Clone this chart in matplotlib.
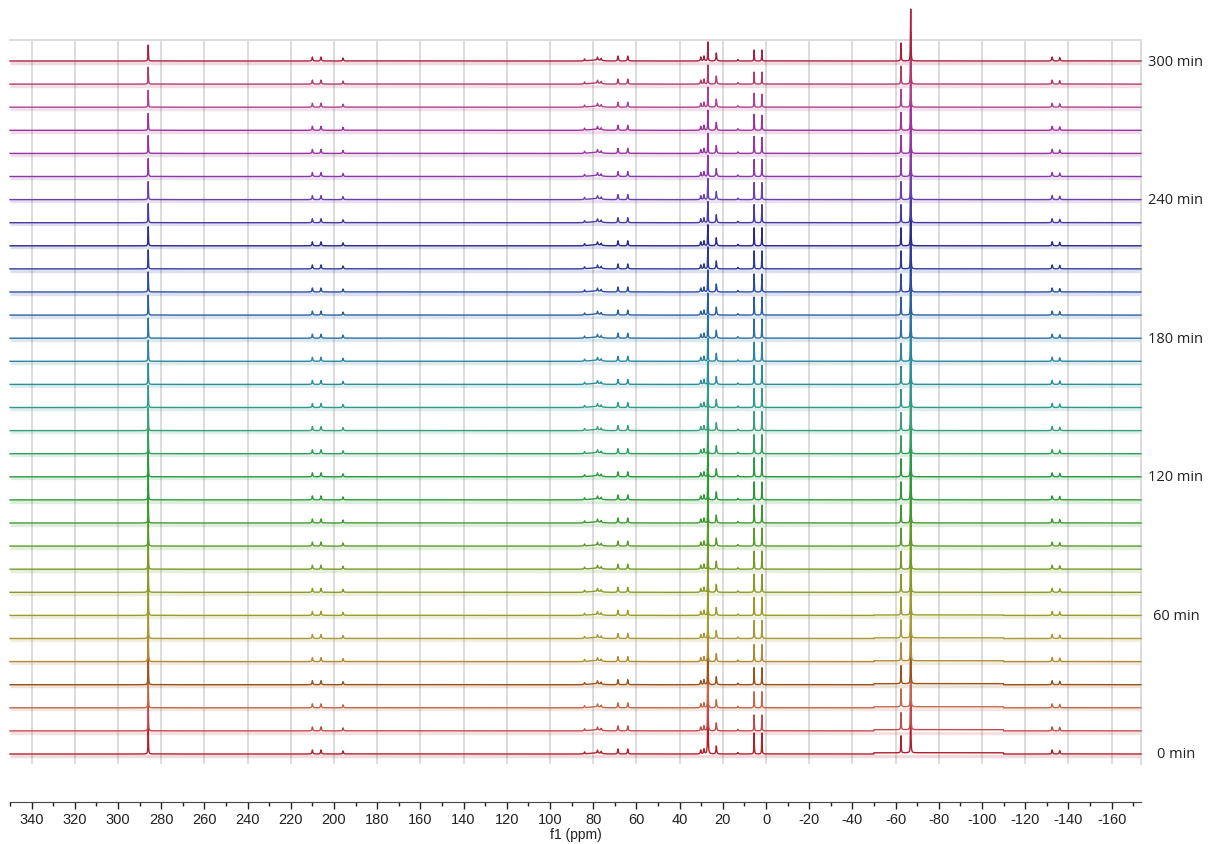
import matplotlib
matplotlib.use("Agg")
import matplotlib.pyplot as plt
import matplotlib.transforms as mtransforms
import numpy as np

plt.rcParams["axes.unicode_minus"] = False

# reaction time of each spectrum (min)
minutes = [0, 10, 20, 30, 40, 50, 60, 70, 80, 90, 100, 110, 120, 130, 140, 150,
           160, 170, 180, 190, 200, 210, 220, 230, 240, 250, 260, 270, 280, 290, 300]

# main signals (ppm) and their heights in every spectrum
main_ppm = [286.0, 26.9, 5.5, 1.9, -62.5, -67.0]
h_286 = [30, 30, 32, 34, 36, 34, 32, 30, 29, 28, 27, 26, 25, 24, 23, 22,
         21, 21, 20, 20, 20, 19, 19, 19, 18, 18, 18, 17, 17, 17, 16]
h_27 = [80, 55, 45, 40, 36, 33, 31, 29, 28, 27, 26, 26, 25, 25, 24, 24,
        23, 23, 23, 22, 22, 22, 21, 21, 21, 21, 20, 20, 20, 19, 19]
h_5 = [21, 16, 16, 17, 17, 18, 18, 18, 18, 18, 18, 18, 19, 19, 19, 19,
       19, 19, 19, 18, 18, 18, 18, 18, 17, 17, 17, 16, 14, 12, 11]
h_2 = [21, 16, 16, 17, 17, 18, 18, 18, 18, 18, 18, 18, 19, 19, 19, 19,
       19, 19, 19, 18, 18, 18, 18, 18, 17, 17, 16, 15, 13, 12, 11]
h_m62 = [17, 17, 18, 18, 18, 18, 18, 18, 18, 18, 18, 18, 18, 18, 18, 18,
         18, 18, 18, 18, 18, 18, 18, 18, 18, 18, 18, 18, 18, 18, 18]
h_m67 = [52, 52, 52, 52, 52, 52, 52, 52, 52, 52, 52, 52, 52, 52, 52, 52,
         52, 52, 52, 52, 52, 52, 52, 52, 52, 52, 52, 52, 52, 52, 52]

# weak signals, roughly constant over time
minor_ppm = [210.0, 206.0, 195.8, 84.0, 78.0, 76.3, 68.5, 64.0,
             30.2, 28.7, 23.0, 13.0, -132.5, -136.0]
minor_h = [4, 4, 3, 2, 3, 2, 5, 5, 4, 5, 8, 1.5, 4, 3.5]

# slightly raised baseline between -50 and -110 ppm in the early spectra
shelf = [1.2, 1.2, 1.0, 1.0, 0.8, 0.6, 0.4, 0, 0, 0, 0, 0, 0, 0, 0, 0,
         0, 0, 0, 0, 0, 0, 0, 0, 0, 0, 0, 0, 0, 0, 0]

colors = ["#b0202a", "#c24a4a", "#c06a4c", "#9a5218", "#b08a36", "#a89a34",
          "#9a9c2a", "#8a9a24", "#749a24", "#5a9a26", "#3c9a2c", "#2a9a34",
          "#2a9a40", "#34a060", "#38a078", "#2e9a8a", "#2a9098", "#2a86a0",
          "#2a70a0", "#2a5ea4", "#2a4aa4", "#2a3a9a", "#2a2a8a", "#4a3aa4",
          "#6a40ac", "#8a3aa8", "#9a34a0", "#a0309a", "#b0408e", "#b03a6a",
          "#a82040"]

label_every = [0, 60, 120, 180, 240, 300]

xmin, xmax = -173.6, 350.0
x = np.linspace(xmin, xmax, 40000)
gam = 0.11
step = 23.1
base0 = 10.0


def lorentz(pos, h, g=gam):
    return h / (1.0 + ((x - pos) / g) ** 2)


fig = plt.figure(figsize=(12.11, 8.45), dpi=100)
W, H = 1211.0, 845.0
ax = fig.add_axes([10 / W, 80 / H, 1131 / W, 724 / H])

hump = 1.0 * np.exp(-0.5 * ((x - 79.0) / 2.5) ** 2)
shelf_mask = ((x < -50) & (x > -110)).astype(float)

for i, m in enumerate(minutes):
    y = np.zeros_like(x)
    heights = [h_286[i], h_27[i], h_5[i], h_2[i], h_m62[i], h_m67[i]]
    for p, h in zip(main_ppm, heights):
        y += lorentz(p, h)
    for p, h in zip(minor_ppm, minor_h):
        y += lorentz(p, h, 0.2)
    y += hump + shelf[i] * shelf_mask
    b = base0 + i * step
    c = colors[i]
    ax.hlines(b - 1.6, xmin, xmax, color=c, alpha=0.16, lw=2.4, zorder=2)
    ax.plot(x, b + y, color=c, lw=1.0, zorder=3 + i * 0.01, clip_on=False)
    if m in label_every:
        tr = mtransforms.blended_transform_factory(fig.transFigure, ax.transData)
        ax.text(1176 / W, b, f"{m} min", transform=tr, ha="center", va="center",
                fontsize=10.5, family="Open Sans", color="#222222")

ax.set_xlim(xmax, xmin)
ax.set_ylim(0, 724)
ax.set_xticks(np.arange(-160, 341, 20))
ax.set_yticks([])
ax.tick_params(axis="x", length=0, labelbottom=False)
ax.grid(axis="x", color="#dcdcdc", lw=1.4, zorder=0)
for s in ["left", "bottom"]:
    ax.spines[s].set_visible(False)
for s in ["top", "right"]:
    ax.spines[s].set_color("#dcdcdc")
    ax.spines[s].set_linewidth(1.4)

# ppm scale below the stack
ax2 = fig.add_axes([10 / W, (845 - 803) / H, 1131 / W, 0.0001])
ax2.set_xlim(xmax, xmin)
ax2.set_yticks([])
ax2.set_xticks(np.arange(-160, 341, 20))
ax2.set_xticks(np.arange(-170, 351, 10), minor=True)
ax2.tick_params(axis="x", which="major", direction="out", length=5, width=1,
                labelsize=10.5, pad=2, colors="#222222")
ax2.tick_params(axis="x", which="minor", direction="out", length=3, width=1,
                colors="#222222")
for lab in ax2.get_xticklabels():
    lab.set_family("Liberation Sans")
for s in ["left", "right", "top"]:
    ax2.spines[s].set_visible(False)
ax2.spines["bottom"].set_color("#444444")
ax2.patch.set_visible(False)
ax2.set_xlabel("f1 (ppm)", fontsize=10, family="Liberation Sans",
               labelpad=1, color="#222222")

fig.savefig("out.png", dpi=100)
